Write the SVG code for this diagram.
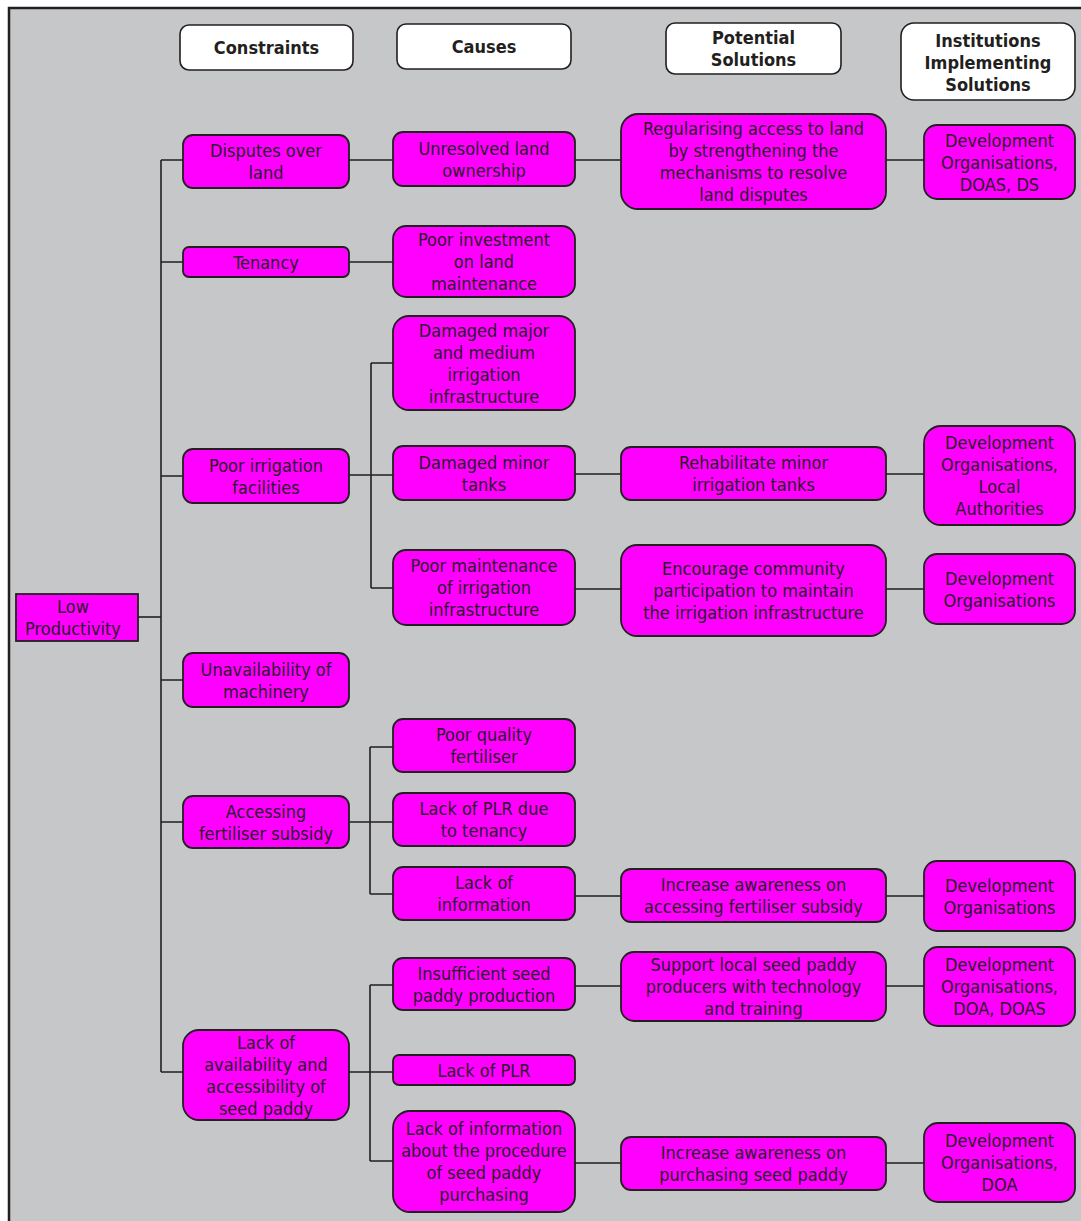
<svg xmlns="http://www.w3.org/2000/svg" width="1081" height="1221" viewBox="0 0 1081 1221">
  <style>
    .frame { fill: #c6c7c9; stroke: #231f20; stroke-width: 2.5; }
    .hdr { fill: #ffffff; stroke: #231f20; stroke-width: 1.6; }
    .box { fill: #ff00ff; stroke: #231f20; stroke-width: 1.8; }
    .wire { fill: none; stroke: #231f20; stroke-width: 1.6; }
    text { font-family: "DejaVu Sans Condensed", "DejaVu Sans", sans-serif; font-size: 18px; fill: #2a1a2a; text-anchor: middle; }
    .h text { font-weight: bold; fill: #231f20; }
  </style>

  <rect width="1081" height="1221" fill="#ffffff"/>
  <rect class="frame" x="9" y="8" width="1090" height="1230"/>

  <!-- column headings -->
  <g class="h" id="hdr-constraints">
    <rect class="hdr" x="180" y="25" width="173" height="45" rx="9"/>
    <text x="266.5" y="54">Constraints</text>
  </g>
  <g class="h" id="hdr-causes">
    <rect class="hdr" x="397" y="24" width="174" height="45" rx="9"/>
    <text x="484" y="53">Causes</text>
  </g>
  <g class="h" id="hdr-solutions">
    <rect class="hdr" x="666" y="23" width="175" height="51" rx="9"/>
    <text x="753.5" y="44">Potential</text>
    <text x="753.5" y="66">Solutions</text>
  </g>
  <g class="h" id="hdr-institutions">
    <rect class="hdr" x="901" y="23" width="174" height="77" rx="13"/>
    <text x="988" y="47">Institutions</text>
    <text x="988" y="69">Implementing</text>
    <text x="988" y="91">Solutions</text>
  </g>

  <!-- connectors -->
  <g id="connectors" class="wire">
    <path d="M161 160V1072"/>
    <path d="M138 617H161"/>
    <path d="M161 160H183M161 262H183M161 476H183M161 680H183M161 822H183M161 1072H183"/>
    <path d="M349 160H393M575 160H621M886 160H924"/>
    <path d="M349 262H393"/>
    <path d="M349 475H393M371 363V588M371 363H393M371 588H393"/>
    <path d="M575 474H621M886 474H924"/>
    <path d="M575 589H621M886 589H924"/>
    <path d="M349 822H393M370 747V894M370 747H393M370 894H393"/>
    <path d="M575 896H621M886 896H924"/>
    <path d="M349 1072H393M370 985V1161M370 985H393M370 1161H393"/>
    <path d="M575 986H621M886 986H924"/>
    <path d="M575 1163H621M886 1163H924"/>
  </g>

  <!-- root -->
  <g id="low-productivity">
    <rect class="box" x="16" y="594" width="122" height="47"/>
    <text x="73" y="613">Low</text>
    <text x="73" y="635">Productivity</text>
  </g>

  <!-- constraints -->
  <g id="c-disputes">
    <rect class="box" x="183" y="135" width="166" height="53" rx="10"/>
    <text x="266" y="157">Disputes over</text>
    <text x="266" y="179">land</text>
  </g>
  <g id="c-tenancy">
    <rect class="box" x="183" y="247" width="166" height="30" rx="6"/>
    <text x="266" y="268.5">Tenancy</text>
  </g>
  <g id="c-irrigation">
    <rect class="box" x="183" y="449" width="166" height="54" rx="10"/>
    <text x="266" y="471.5">Poor irrigation</text>
    <text x="266" y="493.5">facilities</text>
  </g>
  <g id="c-machinery">
    <rect class="box" x="183" y="653" width="166" height="54" rx="10"/>
    <text x="266" y="675.5">Unavailability of</text>
    <text x="266" y="697.5">machinery</text>
  </g>
  <g id="c-fertiliser">
    <rect class="box" x="183" y="796" width="166" height="52" rx="10"/>
    <text x="266" y="817.5">Accessing</text>
    <text x="266" y="839.5">fertiliser subsidy</text>
  </g>
  <g id="c-seed">
    <rect class="box" x="183" y="1030" width="166" height="90" rx="16"/>
    <text x="266" y="1048.5">Lack of</text>
    <text x="266" y="1070.5">availability and</text>
    <text x="266" y="1092.5">accessibility of</text>
    <text x="266" y="1114.5">seed paddy</text>
  </g>

  <!-- causes -->
  <g id="k-ownership">
    <rect class="box" x="393" y="132" width="182" height="54" rx="10"/>
    <text x="484" y="154.5">Unresolved land</text>
    <text x="484" y="176.5">ownership</text>
  </g>
  <g id="k-investment">
    <rect class="box" x="393" y="226" width="182" height="71" rx="13"/>
    <text x="484" y="246">Poor investment</text>
    <text x="484" y="268">on land</text>
    <text x="484" y="290">maintenance</text>
  </g>
  <g id="k-major">
    <rect class="box" x="393" y="316" width="182" height="94" rx="16"/>
    <text x="484" y="336.5">Damaged major</text>
    <text x="484" y="358.5">and medium</text>
    <text x="484" y="380.5">irrigation</text>
    <text x="484" y="402.5">infrastructure</text>
  </g>
  <g id="k-minor">
    <rect class="box" x="393" y="446" width="182" height="54" rx="10"/>
    <text x="484" y="468.5">Damaged minor</text>
    <text x="484" y="490.5">tanks</text>
  </g>
  <g id="k-maintenance">
    <rect class="box" x="393" y="550" width="182" height="75" rx="13"/>
    <text x="484" y="572">Poor maintenance</text>
    <text x="484" y="594">of irrigation</text>
    <text x="484" y="616">infrastructure</text>
  </g>
  <g id="k-quality">
    <rect class="box" x="393" y="719" width="182" height="53" rx="10"/>
    <text x="484" y="741">Poor quality</text>
    <text x="484" y="763">fertiliser</text>
  </g>
  <g id="k-plr-tenancy">
    <rect class="box" x="393" y="793" width="182" height="53" rx="10"/>
    <text x="484" y="815">Lack of PLR due</text>
    <text x="484" y="837">to tenancy</text>
  </g>
  <g id="k-information">
    <rect class="box" x="393" y="867" width="182" height="53" rx="10"/>
    <text x="484" y="889">Lack of</text>
    <text x="484" y="911">information</text>
  </g>
  <g id="k-seed-production">
    <rect class="box" x="393" y="958" width="182" height="52" rx="10"/>
    <text x="484" y="979.5">Insufficient seed</text>
    <text x="484" y="1001.5">paddy production</text>
  </g>
  <g id="k-plr">
    <rect class="box" x="393" y="1055" width="182" height="30" rx="6"/>
    <text x="484" y="1076.5">Lack of PLR</text>
  </g>
  <g id="k-procedure">
    <rect class="box" x="393" y="1111" width="182" height="101" rx="17"/>
    <text x="484" y="1135">Lack of information</text>
    <text x="484" y="1157">about the procedure</text>
    <text x="484" y="1179">of seed paddy</text>
    <text x="484" y="1201">purchasing</text>
  </g>

  <!-- potential solutions -->
  <g id="s-disputes">
    <rect class="box" x="621" y="114" width="265" height="95" rx="17"/>
    <text x="753.5" y="135">Regularising access to land</text>
    <text x="753.5" y="157">by strengthening the</text>
    <text x="753.5" y="179">mechanisms to resolve</text>
    <text x="753.5" y="201">land disputes</text>
  </g>
  <g id="s-tanks">
    <rect class="box" x="621" y="447" width="265" height="53" rx="10"/>
    <text x="753.5" y="469">Rehabilitate minor</text>
    <text x="753.5" y="491">irrigation tanks</text>
  </g>
  <g id="s-community">
    <rect class="box" x="621" y="545" width="265" height="91" rx="16"/>
    <text x="753.5" y="575">Encourage community</text>
    <text x="753.5" y="597">participation to maintain</text>
    <text x="753.5" y="619">the irrigation infrastructure</text>
  </g>
  <g id="s-fertiliser">
    <rect class="box" x="621" y="869" width="265" height="53" rx="10"/>
    <text x="753.5" y="891">Increase awareness on</text>
    <text x="753.5" y="913">accessing fertiliser subsidy</text>
  </g>
  <g id="s-producers">
    <rect class="box" x="621" y="952" width="265" height="69" rx="13"/>
    <text x="753.5" y="971">Support local seed paddy</text>
    <text x="753.5" y="993">producers with technology</text>
    <text x="753.5" y="1015">and training</text>
  </g>
  <g id="s-purchasing">
    <rect class="box" x="621" y="1137" width="265" height="53" rx="10"/>
    <text x="753.5" y="1159">Increase awareness on</text>
    <text x="753.5" y="1181">purchasing seed paddy</text>
  </g>

  <!-- implementing institutions -->
  <g id="i-disputes">
    <rect class="box" x="924" y="125" width="151" height="74" rx="13"/>
    <text x="999.5" y="146.5">Development</text>
    <text x="999.5" y="168.5">Organisations,</text>
    <text x="999.5" y="190.5">DOAS, DS</text>
  </g>
  <g id="i-tanks">
    <rect class="box" x="924" y="426" width="151" height="99" rx="17"/>
    <text x="999.5" y="449">Development</text>
    <text x="999.5" y="471">Organisations,</text>
    <text x="999.5" y="493">Local</text>
    <text x="999.5" y="515">Authorities</text>
  </g>
  <g id="i-community">
    <rect class="box" x="924" y="554" width="151" height="70" rx="13"/>
    <text x="999.5" y="584.5">Development</text>
    <text x="999.5" y="606.5">Organisations</text>
  </g>
  <g id="i-fertiliser">
    <rect class="box" x="924" y="861" width="151" height="70" rx="13"/>
    <text x="999.5" y="891.5">Development</text>
    <text x="999.5" y="913.5">Organisations</text>
  </g>
  <g id="i-producers">
    <rect class="box" x="924" y="947" width="151" height="79" rx="14"/>
    <text x="999.5" y="971">Development</text>
    <text x="999.5" y="993">Organisations,</text>
    <text x="999.5" y="1015">DOA, DOAS</text>
  </g>
  <g id="i-purchasing">
    <rect class="box" x="924" y="1123" width="151" height="79" rx="14"/>
    <text x="999.5" y="1147">Development</text>
    <text x="999.5" y="1169">Organisations,</text>
    <text x="999.5" y="1191">DOA</text>
  </g>
</svg>
